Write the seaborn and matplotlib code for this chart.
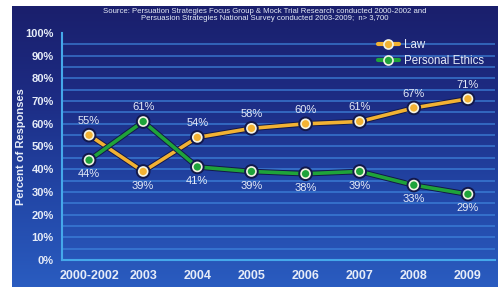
import numpy as np
import pandas as pd
import matplotlib.pyplot as plt
import matplotlib.patheffects as pe
from matplotlib.lines import Line2D
from matplotlib.colors import LinearSegmentedColormap
import seaborn as sns

# chart data
years = ["2000-2002", "2003", "2004", "2005", "2006", "2007", "2008", "2009"]
law = [55, 39, 54, 58, 60, 61, 67, 71]
ethics = [44, 61, 41, 39, 38, 39, 33, 29]
series_names = ["Law", "Personal Ethics"]
y_ticks = [0, 10, 20, 30, 40, 50, 60, 70, 80, 90, 100]

df = pd.DataFrame({
    "year": years * 2,
    "pos": list(range(len(years))) * 2,
    "value": law + ethics,
    "series": [series_names[0]] * len(years) + [series_names[1]] * len(years),
})

colors = {"Law": "#f2b233", "Personal Ethics": "#1fa33a"}
txt = "#e6ecf8"

sns.set_style("white")
plt.rcParams["font.family"] = ["Liberation Sans", "DejaVu Sans"]
fig = plt.figure(figsize=(5, 2.87), dpi=100, facecolor="white")

# dark-to-bright blue frame behind everything
bg = fig.add_axes([12 / 500, 0, 486 / 500, 1 - 6 / 287], zorder=-10)
grad = np.linspace(0, 1, 256).reshape(-1, 1)
cmap = LinearSegmentedColormap.from_list("bg", ["#1a1f6c", "#1d2c84", "#2246a6", "#2a5cc0"])
bg.imshow(grad, aspect="auto", cmap=cmap, extent=(0, 1, 1, 0))
bg.set_axis_off()

ax = fig.add_axes([62 / 500, 1 - 260 / 287, 433 / 500, 227 / 287])
ax.set_facecolor("none")

# stripes every 5%
for v in range(5, 100, 5):
    ax.axhline(v, color="#3f86de", lw=1.2, alpha=0.75, zorder=1)

sns.lineplot(data=df, x="pos", y="value", hue="series", palette=colors,
             lw=2.6, ax=ax, legend=False, zorder=3,
             marker="o", markersize=6.5, markeredgecolor="#f4f4e4",
             markeredgewidth=1.2)
for line in ax.get_lines()[-2:]:
    line.set_path_effects([pe.Stroke(linewidth=4, foreground="#12184a"), pe.Normal()])

# value labels
lab_kw = dict(color=txt, fontsize=8, ha="center", zorder=5)
for i, (a, b) in enumerate(zip(law, ethics)):
    if a >= b:
        ax.text(i, a + 4, f"{a}%", va="bottom", **lab_kw)
        ax.text(i, b - 4, f"{b}%", va="top", **lab_kw)
    else:
        ax.text(i, a - 4, f"{a}%", va="top", **lab_kw)
        ax.text(i, b + 4, f"{b}%", va="bottom", **lab_kw)

ax.set_xlim(-0.5, 7.5)
ax.set_ylim(0, 100)
ax.set_yticks(y_ticks)
ax.set_yticklabels([f"{v}%" for v in y_ticks], color=txt, fontsize=8,
                   fontweight="bold")
ax.set_xticks(range(len(years)))
ax.set_xticklabels(years, color=txt, fontsize=9, fontweight="bold")
ax.set_xticks(np.arange(0.5, 7.5, 1), minor=True)
ax.tick_params(axis="x", which="major", length=0, pad=7)
ax.tick_params(axis="x", which="minor", length=4, color="#45a8ea", width=1.2)
ax.tick_params(axis="y", length=4, color="#45a8ea", width=1.2, pad=2)
ax.set_xlabel("")
ax.set_ylabel("Percent of Responses", color=txt, fontsize=8, fontweight="bold")
ax.yaxis.set_label_coords(-36 / 433, 0.5)
for s in ["top", "right"]:
    ax.spines[s].set_visible(False)
for s in ["left", "bottom"]:
    ax.spines[s].set_color("#45a8ea")
    ax.spines[s].set_linewidth(1.5)

# legend
handles = [Line2D([], [], color=colors[n], lw=3, marker="o", markersize=6.5,
                  markeredgecolor="#f4f4e4", markeredgewidth=1.2) for n in series_names]
leg = ax.legend(handles, series_names, loc="upper left",
                bbox_to_anchor=(310 / 433, 1.0), frameon=False, fontsize=8.3,
                labelcolor=txt, handlelength=1.8, handletextpad=0.5,
                borderaxespad=0.1, labelspacing=0.4)

fig.text(0.53, 1 - 8 / 287,
         "Source: Persuation Strategies Focus Group & Mock Trial Research conducted 2000-2002 and\n"
         "Persuasion Strategies National Survey conducted 2003-2009;  n> 3,700",
         color=txt, fontsize=5.6, ha="center", va="top", linespacing=1.05)

fig.savefig("out.png", dpi=100, facecolor="white")
